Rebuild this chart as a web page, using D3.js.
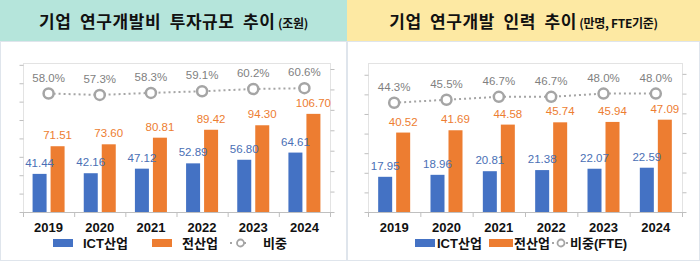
<!DOCTYPE html>
<html>
<head>
<meta charset="utf-8">
<script src="https://cdn.jsdelivr.net/npm/d3@7"></script>
<style>
  body { margin: 0; background: #fff; }
  svg { display: block; }
  text { font-family: "Liberation Sans", "Noto Sans CJK KR", sans-serif; }
  .kr { font-family: "Noto Sans CJK KR", sans-serif; }
</style>
</head>
<body>
<svg width="700" height="264"></svg>
<script>
// data
const years = ['2019', '2020', '2021', '2022', '2023', '2024'];
const rdIct = [41.44, 42.16, 47.12, 52.89, 56.80, 64.61];
const rdAll = [71.51, 73.60, 80.81, 89.42, 94.30, 106.70];
const rdShare = [58.0, 57.3, 58.3, 59.1, 60.2, 60.6];
const staffIct = [17.95, 18.96, 20.81, 21.38, 22.07, 22.59];
const staffAll = [40.52, 41.69, 44.58, 45.74, 45.94, 47.09];
const staffShare = [44.3, 45.5, 46.7, 46.7, 48.0, 48.0];

const BLUE = '#4472c4';
const ORANGE = '#ed7d31';
const GRAY = '#a5a5a5';

const SVG = d3.select('svg');

function drawPanel(opt) {
  const G = SVG.append('g');

  // panel frame + header
  G.append('rect')
    .attr('x', opt.x0 + 0.5).attr('y', 41.5)
    .attr('width', opt.x1 - opt.x0 - 1).attr('height', 219)
    .style('fill', '#fff').style('stroke', '#dfe5ec');
  G.append('rect')
    .attr('x', opt.x0).attr('y', 0)
    .attr('width', opt.x1 - opt.x0).attr('height', 41)
    .style('fill', opt.headColor);

  const title = G.append('text')
    .attr('class', 'kr')
    .attr('x', (opt.x0 + opt.x1) / 2)
    .attr('y', 28)
    .style('text-anchor', 'middle')
    .style('font-weight', 'bold')
    .style('fill', '#111');
  title.append('tspan').text(opt.title)
    .style('font-size', '17px').style('letter-spacing', '0.6px').style('word-spacing', '4px');
  title.append('tspan').text(' ' + opt.unit)
    .style('font-size', '12px').style('letter-spacing', '-0.3px');

  // scales
  const X = d3.scaleBand().domain(years).range([opt.left, opt.right]);
  const Y = d3.scaleLinear().domain(opt.yDomain).range([212, 63]);
  const Y2 = d3.scaleLinear().domain(opt.y2Domain).range([212, opt.y2Top]);

  // plot box
  G.append('rect')
    .attr('x', opt.left + 0.5).attr('y', 63.5)
    .attr('width', opt.right - opt.left).attr('height', 212 - 63)
    .style('fill', 'none').style('stroke', '#e3e3e3');

  // left axis ticks
  const yAxis = d3.axisLeft(Y).tickValues(d3.range(opt.yDomain[0], opt.yDomain[1] + 0.1, opt.yStep))
    .tickSize(4).tickFormat('');
  const yG = G.append('g').attr('transform', `translate(${opt.left + 0.5},0)`).call(yAxis);
  yG.selectAll('line, path').style('stroke', '#bfbfbf');
  yG.select('.domain').remove();

  // right axis ticks
  const y2Axis = d3.axisRight(Y2).tickValues(opt.y2Ticks).tickSize(4).tickFormat('');
  const y2G = G.append('g').attr('transform', `translate(${opt.right + 0.5},0)`).call(y2Axis);
  y2G.selectAll('line, path').style('stroke', '#bfbfbf');
  y2G.select('.domain').remove();

  // x axis
  G.append('line')
    .attr('x1', opt.left).attr('x2', opt.right + 1)
    .attr('y1', 212.5).attr('y2', 212.5)
    .style('stroke', '#bfbfbf');
  G.selectAll('.xtick')
    .data(d3.range(years.length + 1))
    .join('line')
    .attr('x1', i => opt.left + i * X.step() + 0.5)
    .attr('x2', i => opt.left + i * X.step() + 0.5)
    .attr('y1', 212).attr('y2', 217)
    .style('stroke', '#bfbfbf');
  G.selectAll('.year')
    .data(years)
    .join('text')
    .attr('x', d => X(d) + X.bandwidth() / 2)
    .attr('y', 232)
    .text(d => d)
    .style('text-anchor', 'middle')
    .style('font-size', '13px')
    .style('font-weight', 'bold')
    .style('fill', '#111');

  const BW = 14;
  const OFF = 2;
  const cx = d => X(d) + X.bandwidth() / 2;

  // bars
  G.selectAll('.barIct')
    .data(opt.ict)
    .join('rect')
    .attr('x', (d, i) => cx(years[i]) - OFF - BW)
    .attr('y', d => Y(d))
    .attr('width', BW)
    .attr('height', d => 212 - Y(d))
    .style('fill', BLUE);
  G.selectAll('.barAll')
    .data(opt.all)
    .join('rect')
    .attr('x', (d, i) => cx(years[i]) + OFF)
    .attr('y', d => Y(d))
    .attr('width', BW)
    .attr('height', d => 212 - Y(d))
    .style('fill', ORANGE);

  // bar labels
  G.selectAll('.lblIct')
    .data(opt.ict)
    .join('text')
    .attr('x', (d, i) => cx(years[i]) - OFF - BW / 2)
    .attr('y', d => Y(d) - 7)
    .text(d => d.toFixed(2))
    .style('text-anchor', 'middle')
    .style('font-size', '11.5px')
    .style('fill', '#4a6fb5');
  G.selectAll('.lblAll')
    .data(opt.all)
    .join('text')
    .attr('x', (d, i) => cx(years[i]) + OFF + BW / 2)
    .attr('y', d => Y(d) - 7)
    .text(d => d.toFixed(2))
    .style('text-anchor', 'middle')
    .style('font-size', '11.5px')
    .style('fill', ORANGE);

  // share line
  const line = d3.line()
    .x((d, i) => cx(years[i]))
    .y(d => Y2(d));
  G.append('path')
    .datum(opt.share)
    .attr('d', line)
    .style('fill', 'none')
    .style('stroke', GRAY)
    .style('stroke-width', 2)
    .style('stroke-dasharray', '2,3');
  G.selectAll('.dot')
    .data(opt.share)
    .join('circle')
    .attr('cx', (d, i) => cx(years[i]))
    .attr('cy', d => Y2(d))
    .attr('r', 5)
    .style('fill', '#fff')
    .style('stroke', GRAY)
    .style('stroke-width', 2.5);
  G.selectAll('.lblShare')
    .data(opt.share)
    .join('text')
    .attr('x', (d, i) => cx(years[i]))
    .attr('y', d => Y2(d) - 12)
    .text(d => d.toFixed(1) + '%')
    .style('text-anchor', 'middle')
    .style('font-size', '11.5px')
    .style('fill', '#7f7f7f');

  // legend
  const L = G.append('g').attr('transform', 'translate(0,243)');
  const lg = opt.legend;
  L.append('rect').attr('x', lg[0]).attr('y', -4).attr('width', lg[1] - lg[0]).attr('height', 8).style('fill', BLUE);
  L.append('text').attr('x', lg[2]).attr('y', 5).text('ICT산업')
    .style('font-size', '13px').style('font-weight', 'bold').style('fill', '#111');
  L.append('rect').attr('x', lg[3]).attr('y', -4).attr('width', lg[4] - lg[3]).attr('height', 8).style('fill', ORANGE);
  L.append('text').attr('x', lg[5]).attr('y', 5).text('전산업')
    .style('font-size', '13px').style('font-weight', 'bold').style('fill', '#111');
  L.append('line').attr('x1', lg[6]).attr('x2', lg[7]).attr('y1', 0).attr('y2', 0)
    .style('stroke', GRAY).style('stroke-width', 2).style('stroke-dasharray', '2,5');
  L.append('circle').attr('cx', (lg[6] + lg[7]) / 2).attr('cy', 0).attr('r', 3.5)
    .style('fill', '#fff').style('stroke', GRAY).style('stroke-width', 1.8);
  L.append('text').attr('x', lg[8]).attr('y', 5).text(opt.shareName)
    .style('font-size', '13px').style('font-weight', 'bold').style('fill', '#111');
}

drawPanel({
  x0: 0, x1: 347,
  headColor: '#b5e5db',
  title: '기업 연구개발비 투자규모 추이',
  unit: '(조원)',
  left: 23, right: 330,
  yDomain: [0, 162], yStep: 20,
  y2Domain: [0, 70], y2Top: 69, y2Ticks: d3.range(0, 71, 10),
  ict: rdIct, all: rdAll, share: rdShare,
  shareName: '비중',
  legend: [53, 73, 83, 152, 172, 182, 230, 251, 263]
});

drawPanel({
  x0: 347, x1: 700,
  headColor: '#fde9a3',
  title: '기업 연구개발 인력 추이',
  unit: '(만명, FTE기준)',
  left: 368, right: 682,
  yDomain: [0, 76], yStep: 10,
  y2Domain: [0, 60], y2Top: 64, y2Ticks: d3.range(0, 61, 8),
  ict: staffIct, all: staffAll, share: staffShare,
  shareName: '비중(FTE)',
  legend: [415, 435, 437, 489, 513, 514, 552, 570, 570]
});
</script>
</body>
</html>
